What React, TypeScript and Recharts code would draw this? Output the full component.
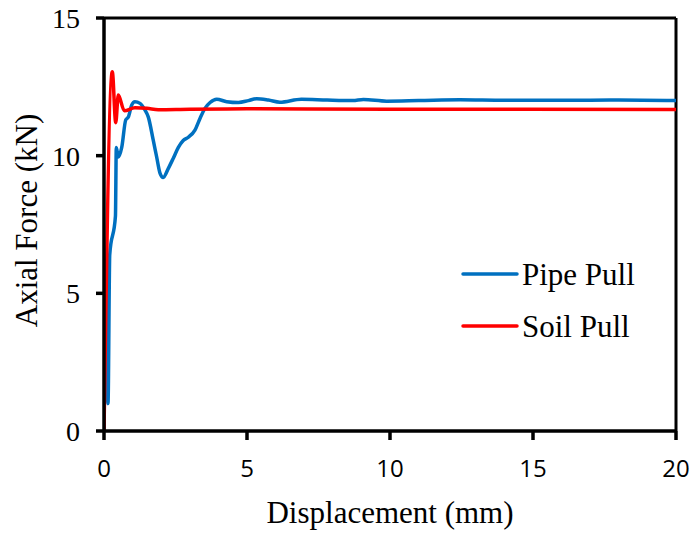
import React from "react";
import {
  LineChart,
  Line,
  XAxis,
  YAxis,
  ReferenceLine,
  Legend,
} from "recharts";

// Pipe Pull series (displacement in mm, axial force in kN)
const pipeX = [
  0, 0.03, 0.14, 0.2, 0.4, 0.43, 0.5, 0.62, 0.76, 0.85, 0.97, 1.08, 1.26, 1.43,
  1.55, 1.72, 1.84, 1.96, 2.07, 2.25, 2.42, 2.6, 2.77, 2.95, 3.18, 3.36, 3.53,
  3.71, 3.94, 4.29, 4.7, 5.05, 5.34, 5.75, 6.15, 6.9, 7.8, 8.7, 9.07, 9.88, 11,
  12.45, 14, 16, 18, 20,
];
const pipeY = [
  0, 5.7, 1.0, 6.4, 7.8, 10.3, 9.95, 10.3, 11.3, 11.4, 11.84, 11.96, 11.9, 11.66,
  11.4, 10.57, 9.96, 9.36, 9.21, 9.54, 9.9, 10.3, 10.55, 10.67, 10.93, 11.36,
  11.72, 11.93, 12.05, 11.96, 11.93, 12.0, 12.07, 12.02, 11.94, 12.05, 12.02,
  12.0, 12.04, 11.98, 12.0, 12.03, 12.01, 12.01, 12.02, 12.0,
];

// Soil Pull series
const soilX = [0, 0.29, 0.41, 0.5, 0.71, 1.08, 1.5, 1.9, 3, 5, 10, 20];
const soilY = [0, 13.05, 11.2, 12.2, 11.63, 11.74, 11.72, 11.67, 11.69, 11.7, 11.69, 11.68];

const xTicks = [0, 5, 10, 15, 20];
const yTicks = [0, 5, 10, 15];

const pipeData = pipeX.map((x, i) => ({ x, y: pipeY[i] }));
const soilData = soilX.map((x, i) => ({ x, y: soilY[i] }));

const SERIF = "'Liberation Serif', 'Times New Roman', serif";
const SANS = "'Open Sans', 'Liberation Sans', sans-serif";

const series = [
  { name: "Pipe Pull", color: "#0070C0" },
  { name: "Soil Pull", color: "#FF0000" },
];

const renderLegend = () => (
  <div style={{ fontFamily: SERIF, fontSize: 31, color: "#000" }}>
    {series.map((s) => (
      <div
        key={s.name}
        style={{ display: "flex", alignItems: "center", height: 52 }}
      >
        <svg width={58} height={8}>
          <line
            x1={2}
            x2={56}
            y1={4}
            y2={4}
            stroke={s.color}
            strokeWidth={3.5}
            strokeLinecap="round"
          />
        </svg>
        <span style={{ marginLeft: 3, lineHeight: 1 }}>{s.name}</span>
      </div>
    ))}
  </div>
);

export default function App() {
  return (
    <div style={{ position: "absolute", left: 0, top: 0, background: "#fff" }}>
      <LineChart
        width={692}
        height={533}
        margin={{ top: 18, right: 16, bottom: 0, left: 0 }}
      >
        <XAxis
          type="number"
          dataKey="x"
          domain={[0, 20]}
          ticks={xTicks}
          allowDataOverflow
          height={102}
          stroke="#000"
          strokeWidth={3.5}
          tickSize={9}
          tickMargin={20}
          tick={{ fill: "#000", fontSize: 24, fontFamily: SANS }}
          label={{
            content: ({ viewBox }: any) => (
              <text
                x={viewBox.x + viewBox.width / 2}
                y={viewBox.y + 92}
                textAnchor="middle"
                fontFamily={SERIF}
                fontSize={31}
                fill="#000"
              >
                Displacement (mm)
              </text>
            ),
          }}
        />
        <YAxis
          type="number"
          dataKey="y"
          domain={[0, 15]}
          ticks={yTicks}
          allowDataOverflow
          width={104}
          stroke="#000"
          strokeWidth={3.5}
          tickSize={8}
          tickMargin={16}
          tick={{ fill: "#000", fontSize: 28, fontFamily: SERIF }}
          label={{
            content: ({ viewBox }: any) => {
              const cx = viewBox.x + 26;
              const cy = viewBox.y + viewBox.height / 2 - 4;
              return (
                <text
                  x={cx}
                  y={cy}
                  transform={`rotate(-90 ${cx} ${cy})`}
                  textAnchor="middle"
                  dominantBaseline="central"
                  fontFamily={SERIF}
                  fontSize={31}
                  fill="#000"
                >
                  Axial Force (kN)
                </text>
              );
            },
          }}
        />
        <ReferenceLine y={15} stroke="#000" strokeWidth={3} />
        <ReferenceLine x={20} stroke="#000" strokeWidth={3} />
        <Legend
          content={renderLegend}
          layout="horizontal"
          verticalAlign="middle"
          align="center"
          wrapperStyle={{ left: 461, top: 248, width: "auto" }}
        />
        <Line
          data={pipeData}
          dataKey="y"
          name="Pipe Pull"
          type="monotoneX"
          stroke="#0070C0"
          strokeWidth={3.5}
          dot={false}
          isAnimationActive={false}
        />
        <Line
          data={soilData}
          dataKey="y"
          name="Soil Pull"
          type="monotoneX"
          stroke="#FF0000"
          strokeWidth={3.5}
          dot={false}
          isAnimationActive={false}
        />
      </LineChart>
    </div>
  );
}
